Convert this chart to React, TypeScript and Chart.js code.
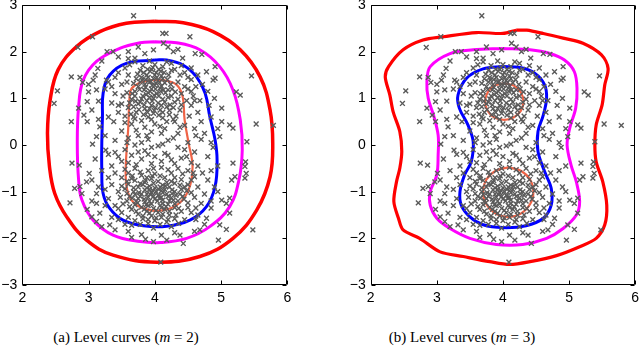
import React, { useEffect, useRef } from 'react';
import { Chart, registerables } from 'chart.js';

Chart.register(...registerables);

const xTickValues = [2, 3, 4, 5, 6];
const xTickLabels = ['2', '3', '4', '5', '6'];
const yTickValues = [-3, -2, -1, 0, 1, 2, 3];
const yTickLabels = ['\u22123', '\u22122', '\u22121', '0', '1', '2', '3'];

const captionA = '(a) Level curves (';
const captionB = '(b) Level curves (';
const mValues = ['2', '3'];

// sample points (same data in both panels)
const samples: [number, number][] = [
  [3.68, 2.77], [3.06, 2.32], [2.84, 2.09], [2.53, 1.16], [2.48, 0.89], [2.74, 1.46], [2.87, 1.45], [2.91, 1.34],
  [2.85, 0.79], [2.74, 0.5], [3.0, 1.14], [2.98, 0.93], [2.93, 0.64], [2.98, 0.5], [3.12, 0.18], [3.06, 0.02],
  [2.75, -0.39], [2.86, -0.43], [3.01, -0.61], [2.97, -0.79], [3.05, -0.75], [2.87, -0.89], [2.79, -0.93], [2.9, -1.04],
  [2.72, -1.24], [3.12, -1.04], [2.98, -1.38], [3.05, -1.54], [3.12, -1.64], [3.2, -1.75], [3.12, -1.25], [3.17, -1.46],
  [3.32, -1.71], [3.4, -1.82], [3.65, -1.98], [3.86, -2.02], [3.98, -2.07], [4.1, -1.93], [4.18, -2.04], [4.43, -2.11],
  [4.38, -1.93], [4.68, -1.82], [4.78, -1.57], [4.96, -2.04], [4.98, -1.71], [5.08, -1.81], [5.13, -1.46], [5.01, -1.18],
  [5.08, -1.25], [5.13, -1.14], [5.48, -1.82], [4.09, -2.51], [5.16, -0.75], [5.18, -0.39], [5.36, -0.46], [5.37, -0.36],
  [5.38, -0.61], [5.36, -0.71], [5.21, -0.68], [5.39, 0.07], [5.13, 0.43], [5.18, 0.36], [5.01, 0.79], [5.01, 0.5],
  [4.98, 0.18], [5.23, 1.14], [5.29, 1.07], [5.46, 1.48], [5.53, 0.45], [5.79, 0.42], [4.53, 2.32], [4.12, 2.39],
  [4.17, 2.39], [4.13, 2.18], [4.28, 2.0], [4.42, 1.86], [4.61, 1.96], [4.71, 1.94], [4.91, 1.68], [4.91, 1.43],
  [4.78, 1.57], [4.88, 1.39], [3.98, 2.04], [3.85, 1.96], [3.7, 1.86], [3.45, 1.89], [3.28, 2.0], [3.37, 2.0],
  [3.14, 1.64], [3.07, 1.39], [3.12, 1.18], [3.27, 1.39], [3.15, 0.94], [3.17, 0.39], [3.4, -0.16], [3.26, -0.11],
  [3.95, 1.62], [4.02, 1.55], [3.88, 1.5], [4.1, 1.48], [3.8, 1.45], [3.98, 1.42], [4.05, 1.38], [3.92, 1.35],
  [4.15, 1.33], [3.85, 1.3], [4.0, 1.28], [3.75, 1.25], [4.08, 1.22], [3.95, 1.2], [4.2, 1.18], [3.7, 1.15],
  [3.9, 1.12], [4.03, 1.1], [4.25, 1.05], [3.82, 1.05], [3.98, 1.0], [4.12, 0.98], [3.65, 0.98], [3.88, 0.95],
  [4.3, 0.92], [4.05, 0.9], [3.75, 0.88], [3.95, 0.85], [4.18, 0.82], [3.6, 0.8], [3.85, 0.78], [4.08, 0.75],
  [4.38, 0.75], [3.72, 0.7], [3.98, 0.68], [4.22, 0.65], [3.55, 0.62], [3.9, 0.6], [4.12, 0.58], [3.8, 0.52],
  [4.3, 0.5], [3.65, 0.45], [4.0, 0.45], [4.45, 0.42], [3.85, 0.38], [4.15, 0.35], [3.5, 0.3], [3.95, 0.28],
  [4.35, 0.25], [3.75, 0.2], [3.45, 1.55], [3.5, 1.3], [3.4, 1.1], [3.35, 0.9], [3.45, 0.7], [3.38, 0.5],
  [3.3, 1.35], [3.55, 1.65], [3.62, 1.72], [4.3, 1.62], [4.45, 1.55], [4.55, 1.4], [4.62, 1.25], [4.5, 1.2],
  [4.58, 1.05], [4.68, 0.95], [4.55, 0.85], [4.65, 0.7], [4.52, 0.62], [4.7, 0.5], [4.6, 0.35], [4.75, 0.25],
  [4.25, 1.75], [4.4, 1.7], [3.7, 1.78], [3.82, 1.7], [4.12, 1.68], [3.6, 1.5], [3.3, 0.6], [3.25, 1.2],
  [4.8, 1.15], [4.72, 1.3], [4.82, 0.85], [4.85, 0.6], [4.4, 1.1], [4.35, 1.35], [3.68, 1.32], [3.58, 1.12],
  [3.5, 0.88], [4.48, 0.95], [3.9, 1.45], [4.0, 1.5], [3.93, 1.58], [4.06, 1.62], [3.86, 1.4], [4.12, 1.42],
  [3.78, 1.35], [4.02, 1.32], [3.96, 1.28], [4.1, 1.26], [3.84, 1.18], [3.92, 1.02], [4.16, 1.12], [3.7, 1.05],
  [4.26, 1.2], [3.78, 0.92], [4.1, 0.85], [3.92, 0.78], [4.28, 0.8], [3.68, 0.82],
  [3.83, 1.55], [3.97, 1.66], [4.09, 1.58], [4.21, 1.5], [3.74, 1.52], [3.89, 1.62], [4.14, 1.55], [4.03, 1.45],
  [3.81, 1.39], [4.19, 1.4], [3.94, 1.36], [4.07, 1.34], [3.72, 1.42], [4.24, 1.3], [3.86, 1.24], [4.01, 1.2],
  [4.13, 1.18], [3.77, 1.19], [4.31, 1.14], [3.93, 1.15], [3.66, 1.1], [4.06, 1.05], [4.2, 1.02], [3.8, 0.99],
  [3.96, 0.94], [4.15, 0.92], [3.71, 0.94], [4.35, 0.98], [3.84, 0.86], [4.01, 0.8], [4.22, 0.74], [3.76, 0.76],
  [4.4, 0.86], [3.89, 0.7], [4.06, 0.64], [3.64, 0.66], [4.32, 0.62], [3.95, 0.55], [4.18, 0.5], [3.7, 0.56],
  [4.45, 1.25], [4.5, 1.45], [4.38, 1.5], [3.58, 1.35], [3.52, 1.05], [3.62, 0.9], [4.55, 1.15], [4.6, 0.95],
  [3.45, 0.85], [3.55, 0.48], [4.25, 1.6], [3.78, 1.6], [4.0, 1.72], [3.92, 1.8], [4.18, 1.78], [3.6, 1.85],
  [4.55, 1.65], [4.65, 1.5], [3.4, 1.45], [3.35, 1.25], [4.09, 1.15], [3.99, 1.07], [3.87, 1.08], [4.23, 0.86],
  [3.83, 0.65], [4.12, 0.7], [3.99, 0.74], [4.28, 0.55], [3.68, 0.6], [4.08, 0.4],
  [3.6, 0.15], [3.9, 0.12], [4.2, 0.1], [4.5, 0.05], [3.7, 0.0], [4.05, -0.02], [4.35, -0.05], [3.55, -0.1],
  [3.85, -0.12], [4.6, -0.15], [4.15, -0.18], [3.65, -0.22], [4.0, -0.25], [4.4, -0.28], [3.8, -0.3], [4.25, -0.32],
  [3.5, -0.35], [4.55, -0.38], [3.95, -0.4], [4.7, 0.12], [3.4, 0.1], [3.3, -0.2], [4.8, -0.25], [4.85, 0.05],
  [3.35, -0.45], [4.65, -0.45], [3.72, 0.32], [4.1, 0.25], [3.88, 0.2], [4.28, 0.15], [3.8, 0.05], [4.12, 0.02],
  [3.95, -0.05], [4.45, -0.1], [3.75, -0.15], [4.2, -0.22], [3.9, -0.2], [4.3, -0.4], [3.6, -0.38], [4.1, -0.35],
  [3.72, -0.42], [4.48, -0.25], [3.45, -0.25], [4.62, 0.2], [3.58, 0.05], [4.38, 0.38],
  [3.7, -0.5], [4.1, -0.48], [4.35, -0.5], [3.9, -0.55], [4.5, -0.55], [3.6, -0.6], [4.0, -0.62], [4.25, -0.6],
  [3.8, -0.65], [4.6, -0.68], [3.5, -0.7], [4.15, -0.7], [3.95, -0.72], [4.4, -0.74], [3.7, -0.76], [4.05, -0.78],
  [3.85, -0.8], [4.3, -0.82], [3.6, -0.84], [4.5, -0.85], [4.12, -0.86], [3.92, -0.88], [3.75, -0.9], [4.22, -0.9],
  [4.0, -0.92], [3.55, -0.94], [4.4, -0.95], [3.85, -0.96], [4.1, -0.98], [3.68, -1.0], [4.3, -1.0], [3.95, -1.02],
  [4.55, -1.02], [3.8, -1.05], [4.18, -1.05], [4.05, -1.08], [3.62, -1.1], [4.42, -1.1], [3.9, -1.12], [4.25, -1.13],
  [3.75, -1.15], [4.0, -1.16], [4.12, -1.18], [3.58, -1.2], [4.35, -1.2], [3.85, -1.22], [4.5, -1.24], [3.95, -1.26],
  [4.2, -1.27], [3.7, -1.28], [4.08, -1.3], [3.8, -1.33], [4.3, -1.34], [3.98, -1.36], [4.15, -1.38], [3.65, -1.38],
  [3.88, -1.42], [4.4, -1.42], [4.05, -1.45], [3.75, -1.48], [4.22, -1.5], [3.95, -1.52], [4.1, -1.55], [3.82, -1.58],
  [4.3, -1.58], [4.0, -1.62], [3.7, -1.62], [4.18, -1.65], [3.9, -1.68], [4.45, -1.6], [3.6, -1.55], [4.55, -1.45],
  [3.4, -0.6], [3.35, -0.85], [3.45, -1.0], [3.3, -1.15], [3.4, -1.3], [3.5, -1.45], [3.45, -1.6], [3.55, -1.7],
  [4.65, -0.9], [4.75, -1.05], [4.7, -1.25], [4.62, -1.35], [4.8, -0.75], [4.85, -0.55], [4.72, -0.6], [4.65, -1.5],
  [3.25, -0.95], [3.3, -0.7], [4.85, -1.2], [4.9, -0.9],
  [3.92, -0.95], [4.02, -1.0], [4.1, -1.12], [3.98, -1.1], [3.88, -1.05], [4.15, -0.95], [4.2, -1.1], [3.78, -1.1],
  [4.28, -1.18], [3.82, -0.85], [4.08, -0.9], [3.72, -1.2], [4.38, -1.05], [3.9, -1.3], [4.12, -1.25], [4.25, -0.78],
  [3.65, -0.72], [4.45, -0.9],
  [3.78, -0.58], [3.98, -0.5], [4.2, -0.53], [4.42, -0.62], [3.66, -0.66], [3.88, -0.7], [4.08, -0.66], [4.3, -0.7],
  [4.55, -0.75], [3.58, -0.78], [3.78, -0.83], [3.98, -0.82], [4.18, -0.8], [4.38, -0.86], [3.68, -0.92], [3.88, -0.92],
  [4.06, -0.95], [4.26, -0.96], [4.48, -0.98], [3.58, -1.04], [3.76, -1.02], [3.93, -1.06], [4.12, -1.02], [4.32, -1.08],
  [3.66, -1.14], [3.84, -1.16], [4.04, -1.2], [4.22, -1.2], [4.44, -1.16], [3.52, -1.26], [3.74, -1.24], [3.92, -1.2],
  [4.1, -1.34], [4.3, -1.26], [3.62, -1.32], [3.84, -1.38], [4.02, -1.4], [4.22, -1.42], [4.5, -1.34], [3.72, -1.42],
  [3.92, -1.46], [4.12, -1.48], [4.32, -1.5], [3.82, -1.52], [4.02, -1.56], [4.2, -1.6], [3.9, -1.6], [4.08, -1.7],
  [3.78, -1.7], [4.36, -1.68], [3.5, -0.88], [3.48, -1.12], [4.6, -1.12], [4.58, -0.6], [3.55, -0.52], [3.45, -1.36],
  [4.62, -1.6], [3.65, -1.72], [4.25, -1.75], [3.98, -1.78], [3.86, -0.76], [4.16, -0.88], [3.97, -0.98], [4.07, -1.14],
  [3.87, -1.28], [4.17, -1.32], [3.7, -1.06], [4.36, -1.36], [3.96, -0.66], [4.26, -1.04],
  [3.0, 1.3], [3.05, 0.75], [3.15, 0.55], [3.1, 1.5], [3.2, 1.8], [3.25, 0.2], [3.1, -0.3], [3.2, -0.55],
  [3.15, -0.9], [3.25, -1.3], [3.05, -1.2], [3.35, -1.55], [4.9, 1.0], [4.95, 0.35], [4.88, -0.05], [4.95, -0.45],
  [4.95, -1.0], [4.85, -1.35], [4.75, -1.7], [4.6, -1.85], [4.3, -1.88], [3.6, -1.85], [3.8, -1.92], [4.2, 2.1],
  [3.6, 2.0], [4.35, 2.05], [3.75, 2.1]
];

// level curves, panel (a)
const aOuter: [number, number][] = [
  [4.0, 2.65], [4.43, 2.62], [4.88, 2.43], [5.29, 2.04], [5.59, 1.46], [5.74, 0.75], [5.78, 0.04], [5.74, -0.68],
  [5.54, -1.39], [5.18, -2.0], [4.68, -2.39], [4.03, -2.51], [3.37, -2.36], [2.97, -2.04], [2.67, -1.54], [2.49, -1.04],
  [2.41, -0.46], [2.38, 0.25], [2.42, 0.96], [2.54, 1.61], [2.82, 2.11], [3.17, 2.43], [3.57, 2.61]
];
const aMiddle: [number, number][] = [
  [4.0, 2.21], [4.33, 2.19], [4.68, 2.04], [4.98, 1.68], [5.18, 1.18], [5.29, 0.54], [5.32, -0.11], [5.27, -0.75],
  [5.13, -1.32], [4.83, -1.75], [4.48, -2.0], [4.08, -2.09], [3.78, -2.07], [3.37, -1.93], [3.07, -1.61], [2.9, -1.18],
  [2.85, -0.75], [2.83, 0.04], [2.85, 0.82], [2.92, 1.39], [3.12, 1.79], [3.47, 2.07], [3.78, 2.19]
];
const aInner: [number, number][] = [
  [4.0, 1.82], [4.18, 1.82], [4.43, 1.71], [4.63, 1.46], [4.76, 1.11], [4.83, 0.61], [4.91, 0.11], [4.94, -0.32],
  [4.91, -0.89], [4.78, -1.32], [4.53, -1.61], [4.18, -1.74], [3.83, -1.73], [3.52, -1.61], [3.32, -1.36], [3.22, -1.04],
  [3.2, -0.54], [3.2, 0.04], [3.21, 0.61], [3.22, 1.11], [3.32, 1.5], [3.57, 1.75]
];
const aCore: [number, number][] = [
  [3.95, 1.39], [4.13, 1.39], [4.33, 1.29], [4.42, 1.04], [4.45, 0.54], [4.51, 0.04], [4.57, -0.46], [4.51, -0.96],
  [4.33, -1.29], [4.03, -1.41], [3.73, -1.29], [3.6, -1.04], [3.56, -0.61], [3.6, 0.39], [3.62, 1.04], [3.65, 1.21],
  [3.78, 1.34]
];

// level curves, panel (b)
const bOuter: [number, number][] = [
  [4.2, 2.46], [4.36, 2.46], [4.61, 2.39], [4.91, 2.29], [5.21, 2.18], [5.49, 1.93], [5.59, 1.64], [5.54, 1.29],
  [5.5, 0.86], [5.41, 0.43], [5.39, 0.0], [5.41, -0.36], [5.51, -0.79], [5.57, -1.29], [5.54, -1.71], [5.41, -2.0],
  [5.16, -2.18], [4.81, -2.37], [4.41, -2.5], [4.1, -2.56], [3.8, -2.5], [3.4, -2.39], [3.05, -2.29], [2.74, -2.0],
  [2.49, -1.82], [2.42, -1.57], [2.35, -1.21], [2.39, -0.79], [2.44, -0.5], [2.47, -0.14], [2.44, 0.29], [2.34, 0.71],
  [2.29, 1.07], [2.22, 1.46], [2.27, 1.68], [2.49, 2.04], [2.79, 2.25], [3.1, 2.32], [3.6, 2.41], [4.0, 2.39]
];
const bMiddle: [number, number][] = [
  [4.0, 2.07], [4.41, 2.04], [4.71, 1.96], [4.93, 1.82], [5.08, 1.57], [5.12, 1.21], [5.1, 0.79], [5.01, 0.36],
  [4.97, 0.0], [5.03, -0.43], [5.11, -0.79], [5.16, -1.21], [5.11, -1.5], [4.91, -1.79], [4.66, -2.0], [4.3, -2.13],
  [3.9, -2.13], [3.5, -2.0], [3.2, -1.79], [3.0, -1.57], [2.9, -1.29], [2.9, -1.0], [3.0, -0.64], [3.02, -0.21],
  [3.02, 0.21], [2.95, 0.64], [2.87, 1.0], [2.85, 1.36], [2.9, 1.68], [3.2, 1.96], [3.55, 2.04]
];
const bInner: [number, number][] = [
  [4.0, 1.68], [4.26, 1.66], [4.48, 1.54], [4.63, 1.29], [4.66, 1.0], [4.61, 0.64], [4.53, 0.29], [4.53, -0.14],
  [4.63, -0.57], [4.73, -0.93], [4.73, -1.29], [4.61, -1.57], [4.35, -1.73], [4.0, -1.77], [3.7, -1.71], [3.5, -1.54],
  [3.37, -1.29], [3.35, -1.0], [3.42, -0.64], [3.52, -0.36], [3.55, 0.07], [3.47, 0.43], [3.34, 0.79], [3.32, 1.07],
  [3.45, 1.43], [3.7, 1.63]
];
const bCoreTop: [number, number][] = [
  [4.02, 1.32], [4.17, 1.27], [4.27, 1.13], [4.31, 0.93], [4.27, 0.73], [4.16, 0.59], [4.02, 0.54], [3.87, 0.59],
  [3.77, 0.73], [3.73, 0.93], [3.77, 1.13], [3.87, 1.27]
];
const bCoreBottom: [number, number][] = [
  [4.08, -0.48], [4.27, -0.55], [4.41, -0.74], [4.46, -1.01], [4.41, -1.27], [4.27, -1.47], [4.08, -1.54], [3.89, -1.47],
  [3.75, -1.27], [3.7, -1.01], [3.75, -0.74], [3.89, -0.55]
];

const RED = '#ff0000';
const MAGENTA = '#ff00ff';
const BLUE = '#0000ff';
const CORE = '#ef6447';
const MARK = '#5a5a5a';

const toXY = (arr: [number, number][]) => arr.map(([x, y]) => ({ x, y }));
const closed = (arr: [number, number][]) => toXY([...arr, arr[0]]);

const curve = (arr: [number, number][], color: string, width: number, tension: number) => ({
  data: closed(arr),
  showLine: true,
  borderColor: color,
  backgroundColor: color,
  borderWidth: width,
  pointRadius: 0,
  pointHoverRadius: 0,
  tension,
  fill: false,
  order: 1,
});

const tickFont = { family: 'Liberation Sans, Arial, Helvetica, sans-serif', size: 14 };

const framePlugin = {
  id: 'matlabFrame',
  afterDraw(chart: any) {
    const { ctx, chartArea: a, scales } = chart;
    ctx.save();
    ctx.strokeStyle = '#000';
    ctx.lineWidth = 1;
    const l = Math.round(a.left) + 0.5;
    const r = Math.round(a.right) - 0.5;
    const t = Math.round(a.top) + 0.5;
    const b = Math.round(a.bottom) - 0.5;
    ctx.beginPath();
    ctx.rect(l, t, r - l, b - t);
    const L = 4;
    for (const v of xTickValues) {
      const px = Math.round(scales.x.getPixelForValue(v)) + 0.5;
      ctx.moveTo(px, b);
      ctx.lineTo(px, b - L);
      ctx.moveTo(px, t);
      ctx.lineTo(px, t + L);
    }
    for (const v of yTickValues) {
      const py = Math.round(scales.y.getPixelForValue(v)) + 0.5;
      ctx.moveTo(l, py);
      ctx.lineTo(l + L, py);
      ctx.moveTo(r, py);
      ctx.lineTo(r - L, py);
    }
    ctx.stroke();
    ctx.restore();
  },
};

function Panel(props: { curves: any[]; left: number; yWidth: number; padRight: number }) {
  const ref = useRef<HTMLCanvasElement>(null);
  useEffect(() => {
    const canvas = ref.current;
    if (!canvas) return;
    const chart = new Chart(canvas, {
      type: 'scatter',
      data: {
        datasets: [
          {
            data: toXY(samples),
            pointStyle: 'crossRot',
            pointRadius: 3.4,
            pointHoverRadius: 3.4,
            pointBorderWidth: 1.4,
            borderColor: MARK,
            backgroundColor: MARK,
            showLine: false,
            order: 0,
          } as any,
          ...props.curves,
        ],
      },
      options: {
        responsive: false,
        animation: false,
        devicePixelRatio: 1,
        layout: { padding: { left: 0, top: 5, right: props.padRight, bottom: 0 } },
        plugins: { legend: { display: false }, tooltip: { enabled: false } },
        events: [],
        scales: {
          x: {
            type: 'linear',
            min: 2,
            max: 6,
            grid: { display: false, drawTicks: false },
            border: { display: false },
            afterBuildTicks: (s: any) => {
              s.ticks = xTickValues.map((v) => ({ value: v }));
            },
            ticks: {
              autoSkip: false,
              maxRotation: 0,
              padding: 5,
              color: '#000',
              font: tickFont,
              callback: (_v: any, i: number) => xTickLabels[i],
            },
            afterFit: (s: any) => {
              s.height = 25;
              s.paddingLeft = 0;
              s.paddingRight = 0;
              s.paddingTop = 0;
              s.paddingBottom = 0;
            },
          },
          y: {
            type: 'linear',
            min: -3,
            max: 3,
            grid: { display: false, drawTicks: false },
            border: { display: false },
            afterBuildTicks: (s: any) => {
              s.ticks = yTickValues.map((v) => ({ value: v }));
            },
            ticks: {
              autoSkip: false,
              padding: 5,
              color: '#000',
              font: tickFont,
              callback: (_v: any, i: number) => yTickLabels[i],
            },
            afterFit: (s: any) => {
              s.width = props.yWidth;
              s.paddingLeft = 0;
              s.paddingRight = 0;
              s.paddingTop = 0;
              s.paddingBottom = 0;
            },
          },
        },
      } as any,
      plugins: [framePlugin],
    });
    return () => chart.destroy();
  }, []);
  return (
    <canvas
      ref={ref}
      width={320}
      height={310}
      style={{ position: 'absolute', left: props.left, top: 0, width: 320, height: 310 }}
    />
  );
}

const captionStyle = (center: number): React.CSSProperties => ({
  position: 'absolute',
  left: center - 120,
  width: 240,
  top: 328,
  textAlign: 'center',
  fontFamily: '"Liberation Serif", "DejaVu Serif", serif',
  fontSize: 15,
  lineHeight: '18px',
  color: '#000',
  whiteSpace: 'nowrap',
});

export default function App() {
  const curvesA = [
    curve(aOuter, RED, 3.5, 0.4),
    curve(aMiddle, MAGENTA, 3, 0.4),
    curve(aInner, BLUE, 3, 0.4),
    curve(aCore, CORE, 2.2, 0.4),
  ];
  const curvesB = [
    curve(bOuter, RED, 3.2, 0.3),
    curve(bMiddle, MAGENTA, 3, 0.35),
    curve(bInner, BLUE, 3, 0.35),
    curve(bCoreTop, CORE, 2.2, 0.4),
    curve(bCoreBottom, CORE, 2.2, 0.4),
  ];
  return (
    <div style={{ position: 'fixed', left: 0, top: 0, width: 640, height: 346, background: '#fff', overflow: 'hidden' }}>
      <Panel curves={curvesA} left={0} yWidth={22.3} padRight={32.7} />
      <Panel curves={curvesB} left={320} yWidth={50.7} padRight={4.3} />
      <div style={captionStyle(126)}>
        {captionA}
        <i>m</i> = {mValues[0]})
      </div>
      <div style={captionStyle(462)}>
        {captionB}
        <i>m</i> = {mValues[1]})
      </div>
    </div>
  );
}
